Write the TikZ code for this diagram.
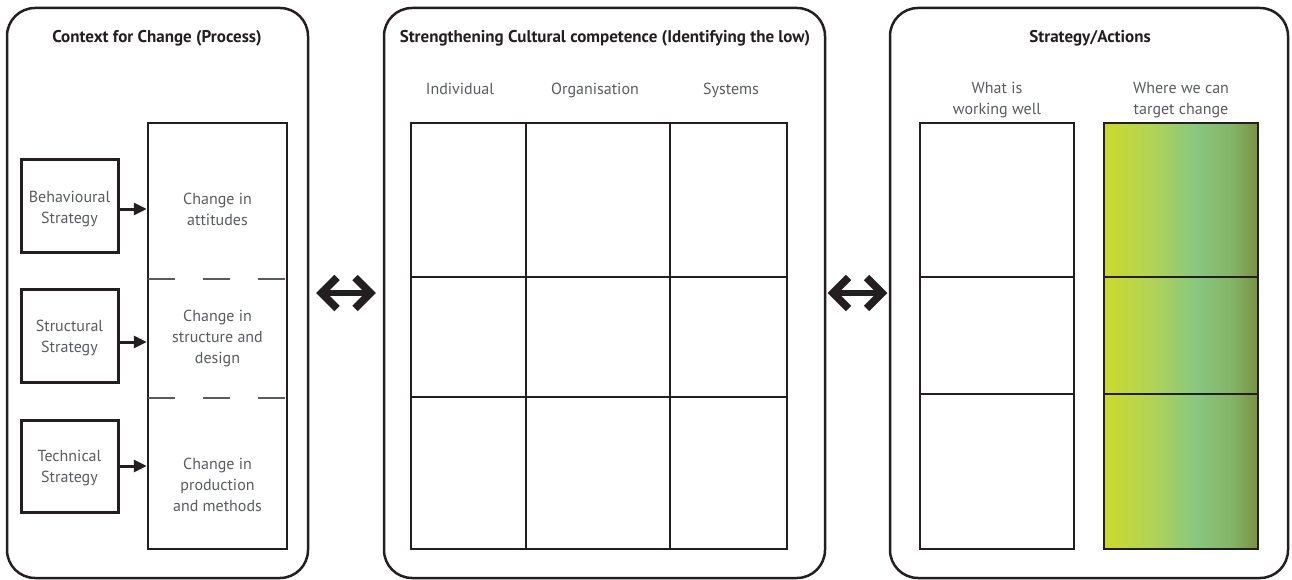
\documentclass[tikz,border=0pt]{standalone}
\usepackage{fontspec}
\setmainfont{PT Sans}
\usetikzlibrary{arrows.meta,calc}
\definecolor{txt}{HTML}{5A5B5D}
\definecolor{ink}{HTML}{231F20}
\pgfdeclarehorizontalshading{tgt}{100bp}{rgb(0bp)=(0.80,0.85,0.16); rgb(25bp)=(0.80,0.85,0.16); rgb(40bp)=(0.70,0.83,0.33); rgb(55bp)=(0.53,0.78,0.50); rgb(66bp)=(0.52,0.71,0.41); rgb(75bp)=(0.47,0.57,0.26); rgb(100bp)=(0.47,0.57,0.26)}
\begin{document}
\begin{tikzpicture}[x=1pt,y=-1pt,
  panel/.style={draw=ink,line width=2.5pt,rounded corners=28pt,inner sep=0pt,minimum height=570pt},
  title/.style={font=\bfseries\fontsize{17}{20}\selectfont,text=ink,anchor=base,inner sep=0pt},
  lbl/.style={font=\fontsize{16}{21}\selectfont,text=txt,align=center,inner sep=0pt},
  hdr/.style={font=\fontsize{16}{21}\selectfont,text=txt,anchor=base,inner sep=0pt},
  box/.style={draw=ink,line width=3pt,inner sep=0pt},
  cell/.style={draw=ink,line width=2.5pt,inner sep=0pt},
  arr/.style={draw=ink,line width=3pt,-{Triangle[length=13pt,width=12pt]}},
  sep/.style={draw=txt,line width=1.3pt,dash pattern=on 27pt off 28pt},
  shaft/.style={draw=ink,line width=6.5pt},
  chev/.style={draw=ink,line width=7.5pt,miter limit=10}
]
\useasboundingbox (0,0) rectangle (1292,580);

% panels
\node[panel,minimum width=301pt] (p1) at (157.5,293) {};
\node[panel,minimum width=441pt] (p2) at (604.5,293) {};
\node[panel,minimum width=398pt] (p3) at (1089,293) {};

% titles
\node[title] (t1) at (157,43) {Context for Change (Process)};
\node[title] (t2) at (605,43) {Strengthening Cultural competence (Identifying the low)};
\node[title] (t3) at (1090,43) {Strategy/Actions};

% panel 1
\node[box,minimum width=97pt,minimum height=92pt] (b1) at (69.5,206) {};
\node[box,minimum width=97pt,minimum height=93pt] (b2) at (69.5,335.5) {};
\node[box,minimum width=97pt,minimum height=92pt] (b3) at (69.5,466) {};
\node[box,line width=2.5pt,minimum width=139pt,minimum height=426pt] (big) at (217.5,336) {};
\coordinate (s1l) at (148,279); \coordinate (s1r) at (287,279);
\coordinate (s2l) at (148,398); \coordinate (s2r) at (287,398);
\draw[sep] (s1l) -- (s1r);
\draw[sep] (s2l) -- (s2r);

\node[lbl] (l1) at (69.5,209) {Behavioural\\Strategy};
\node[lbl] (l2) at (69.5,338) {Structural\\Strategy};
\node[lbl] (l3) at (69.5,468) {Technical\\Strategy};
\node[lbl] (c1) at (217.5,209) {Change in\\attitudes};
\node[lbl] (c2) at (217.5,338) {Change in\\structure and\\design};
\node[lbl] (c3) at (217.5,485) {Change in\\production\\and methods};

\draw[arr] ([yshift=-3pt]b1.east) -- ([yshift=-3pt]b1.east -| big.west);
\draw[arr] ([yshift=-6.5pt]b2.east) -- ([yshift=-6.5pt]b2.east -| big.west);
\draw[arr] (b3.east) -- (b3.east -| big.west);

% double arrows
\coordinate (d1) at ($(p1.east)!0.5!(p2.west)$);
\coordinate (d2) at ($(p2.east)!0.5!(p3.west)$);
\foreach \d in {d1,d2}{
  \draw[shaft] ($(\d)+(-24,0)$) -- ($(\d)+(24,0)$);
  \draw[chev] ($(\d)+(-9,-15.5)$) -- ($(\d)+(-24.5,0)$) -- ($(\d)+(-9,15.5)$);
  \draw[chev] ($(\d)+(9,-15.5)$) -- ($(\d)+(24.5,0)$) -- ($(\d)+(9,15.5)$);
}

% panel 2 headers
\node[hdr] (h1) at (460,95) {Individual};
\node[hdr] (h2) at (595,95) {Organisation};
\node[hdr] (h3) at (731,95) {Systems};

% panel 2 grid
\foreach \r/\ya/\yb in {1/123/277,2/277/397,3/397/549}{
  \foreach \c/\xa/\xb in {1/411/526,2/526/670,3/670/787}{
    \node[cell,minimum width={\xb-\xa},minimum height={\yb-\ya}] (g\r\c) at ({(\xa+\xb)/2},{(\ya+\yb)/2}) {};
  }
}

% panel 3
\node[lbl] (w1) at (997,100) {What is\\working well};
\node[lbl] (w2) at (1181,100) {Where we can\\target change};
\shade[shading=tgt] (1104,123) rectangle (1258,549);
\foreach \r/\ya/\yb in {1/123/277,2/277/394,3/394/549}{
  \node[cell,minimum width=154pt,minimum height={\yb-\ya}] (a\r) at (997,{(\ya+\yb)/2}) {};
  \node[cell,minimum width=154pt,minimum height={\yb-\ya}] (z\r) at (1181,{(\ya+\yb)/2}) {};
}
\end{tikzpicture}
\end{document}
